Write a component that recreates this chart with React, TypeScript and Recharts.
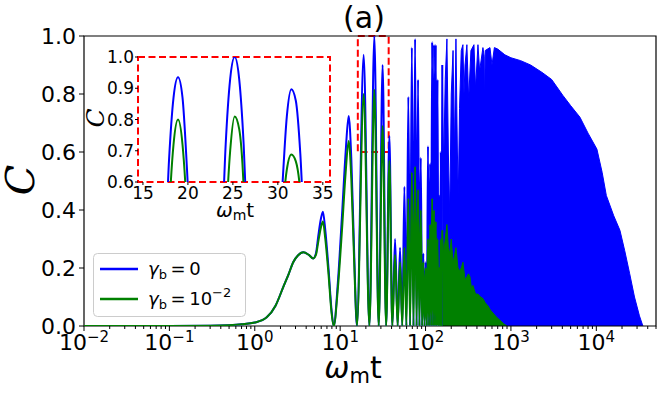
import React from 'react';
import { ComposedChart, LineChart, Line, Area, XAxis, YAxis, ReferenceArea } from 'recharts';

const FONT = "'DejaVu Sans', sans-serif";
const BLUE = '#0000ff';
const GREEN = '#008000';
const RED = '#ff0000';

// ---- main chart: resolved oscillations (x = omega_m t) ----
const oscX = [
  0.01, 0.1, 0.3, 0.5, 0.7, 1.0, 1.38, 1.75, 2.16, 2.5,
  2.82, 3.2, 3.7, 4.3, 4.84, 5.2, 5.54, 5.95, 6.28, 6.7,
  7.3, 7.9, 8.4, 9.4, 10.5, 11.6, 12.57, 13.5, 14.6, 15.71,
  18.85, 21.99, 25.13, 28.27, 31.42, 34.56, 37.7, 40.84, 43.98, 47.12,
  50.27, 53.41, 56.55, 59.69, 62.83, 65.97, 69.12, 72.26, 75.4, 78.54,
  81.68, 84.82, 87.96, 91.11, 94.25, 97.39, 100.5, 103.7, 106.8, 109.96,
  113.1, 116.2, 119.4, 122.5, 125.7, 128.8, 131.9, 135.1, 138.2, 141.4,
  144.5, 147.7, 150.8, 153.9, 157.1,
];
const blueOsc = [
  0, 0, 0.001, 0.003, 0.006, 0.012, 0.03, 0.07, 0.135, 0.18,
  0.22, 0.243, 0.254, 0.245, 0.233, 0.25, 0.31, 0.37, 0.394, 0.33,
  0.2, 0.06, 0, 0.15, 0.38, 0.6, 0.724, 0.58, 0.25, 0,
  0.935, 0, 1.0, 0, 0.9, 0, 0.655, 0, 0.3, 0,
  0.27, 0, 0.48, 0, 0.79, 0, 0.96, 0, 0.99, 0,
  0.85, 0, 0.58, 0, 0.25, 0, 0.22, 0, 0.62, 0,
  0.56, 0, 0.98, 0, 0.97, 0, 0.97, 0, 0.85, 0,
  0.45, 0, 0.6, 0, 0.9,
];
const greenOsc = [
  0, 0, 0.001, 0.003, 0.006, 0.012, 0.03, 0.07, 0.135, 0.18,
  0.22, 0.243, 0.254, 0.245, 0.233, 0.245, 0.29, 0.34, 0.36, 0.3,
  0.18, 0.05, 0, 0.13, 0.33, 0.53, 0.638, 0.51, 0.22, 0,
  0.8, 0, 0.815, 0, 0.69, 0, 0.57, 0, 0.245, 0,
  0.22, 0, 0.27, 0, 0.44, 0, 0.53, 0, 0.55, 0,
  0.47, 0, 0.4, 0, 0.22, 0, 0.2, 0, 0.3, 0,
  0.35, 0, 0.44, 0, 0.4, 0, 0.36, 0, 0.3, 0,
  0.2, 0, 0.3, 0, 0.33,
];

// ---- main chart: unresolved fast oscillations, drawn as upper envelope ----
const blueBandX = [
  157.1, 163, 170, 178, 185, 192, 200, 210, 218, 227,
  236, 242, 250, 262, 274, 282, 290, 305, 320, 340,
  369, 385, 411, 430, 470, 486, 492, 500, 568, 600,
  640, 700, 850, 1000, 1300, 1700, 2300, 3000, 4060, 5000,
  6430, 8000, 10160, 11700, 13100, 16000, 18900, 21500, 24600, 28000,
  32000, 35100,
];
const blueBandTop = [
  0.9, 0.55, 0.85, 0.99, 0.6, 0.38, 0.8, 0.95, 0.6, 0.99,
  0.6, 0.45, 0.75, 0.95, 0.97, 0.8, 0.9, 0.97, 0.78, 0.95,
  0.97, 0.82, 0.97, 0.88, 0.96, 0.93, 0.75, 0.95, 0.96, 0.9,
  0.96, 0.955, 0.935, 0.925, 0.915, 0.9, 0.875, 0.85, 0.795, 0.76,
  0.72, 0.665, 0.61, 0.53, 0.45, 0.38, 0.33, 0.26, 0.18, 0.1,
  0.035, 0,
];
const greenBandX = [
  157.1, 163, 170, 178, 185, 192, 200, 210, 218, 227,
  240, 252, 262, 274, 290, 305, 318, 331, 345, 359,
  385, 411, 440, 470, 500, 537, 575, 615, 680, 743,
  820, 898,
];
const greenBandTop = [
  0.33, 0.25, 0.3, 0.35, 0.27, 0.25, 0.3, 0.22, 0.24, 0.27,
  0.2, 0.19, 0.2, 0.22, 0.16, 0.17, 0.18, 0.17, 0.13, 0.14,
  0.11, 0.11, 0.1, 0.095, 0.08, 0.07, 0.055, 0.045, 0.03, 0.02,
  0.008, 0,
];

// ---- inset (zoom of 15..35) ----
const insetX = [
  16.8, 17.4, 17.9, 18.4, 18.9, 19.4, 19.9, 20.4, 21.0,
  23.1, 23.7, 24.2, 24.7, 25.2, 25.7, 26.2, 26.7, 27.3,
  29.4, 30.0, 30.5, 31.0, 31.5, 32.0, 32.5, 33.0, 33.6,
];
const insetBlue = [
  0.25, 0.35, 0.67, 0.87, 0.935, 0.87, 0.64, 0.35, 0.1,
  0.2, 0.37, 0.72, 0.93, 1.0, 0.93, 0.72, 0.37, 0.15,
  0.2, 0.33, 0.585, 0.81, 0.897, 0.86, 0.69, 0.39, 0.15,
];
const insetGreen = [
  0.05, 0.1, 0.49, 0.72, 0.8, 0.72, 0.49, 0.1, 0.02,
  0.02, 0.1, 0.45, 0.7, 0.81, 0.77, 0.58, 0.1, 0.02,
  0.02, 0.3, 0.5, 0.64, 0.688, 0.666, 0.57, 0.35, 0.05,
];

const xMajor = [0.01, 0.1, 1, 10, 100, 1000, 10000];
const yTicks = [0, 0.2, 0.4, 0.6, 0.8, 1.0];
const insetXTicks = [15, 20, 25, 30, 35];
const insetYTicks = [0.6, 0.7, 0.8, 0.9, 1.0];

const xTicks: number[] = [];
xMajor.forEach((d) => {
  xTicks.push(d);
  for (let k = 2; k <= 9; k++) {
    const v = +(d * k).toPrecision(6);
    if (v <= 50000) xTicks.push(v);
  }
});

type Row = { x: number; bl?: number; gl?: number; ba?: number; ga?: number };
const rowMap = new Map<number, Row>();
const put = (x: number, k: 'bl' | 'gl' | 'ba' | 'ga', v: number) => {
  const r = rowMap.get(x) ?? { x };
  r[k] = v;
  rowMap.set(x, r);
};
oscX.forEach((x, i) => { put(x, 'bl', blueOsc[i]); put(x, 'gl', greenOsc[i]); });
blueBandX.forEach((x, i) => put(x, 'ba', blueBandTop[i]));
greenBandX.forEach((x, i) => put(x, 'ga', greenBandTop[i]));
const rows = [...rowMap.values()].sort((a, b) => a.x - b.x);

const insetRows = insetX.map((x, i) => ({ x, b: insetBlue[i], g: insetGreen[i] }));

const XTick = (props: any) => {
  const { x, y, payload } = props;
  const lg = Math.log10(payload.value);
  const e = Math.round(lg);
  const major = Math.abs(lg - e) < 1e-6;
  return (
    <g>
      <line x1={x} x2={x} y1={y} y2={y + (major ? 5 : 3)} stroke="#000" strokeWidth={1} />
      {major && (
        <text x={x} y={y + 24} textAnchor="middle" fontSize={22} fill="#000" fontFamily={FONT}>
          10
          <tspan dy={-8} fontSize={15}>{e < 0 ? '\u2212' + -e : String(e)}</tspan>
        </text>
      )}
    </g>
  );
};

export default function App() {
  return (
    <div style={{ position: 'absolute', left: 0, top: 0, width: 665, height: 396, background: '#fff', fontFamily: FONT }}>
      <ComposedChart width={665} height={396} data={rows} margin={{ top: 36, right: 9, bottom: 30, left: 24 }}>
        <XAxis
          dataKey="x" type="number" scale="log" domain={[0.01, 50000]} allowDataOverflow
          ticks={xTicks} interval={0} tick={<XTick />} tickLine={false} axisLine={false}
          tickSize={0} tickMargin={0} height={40}
        />
        <YAxis
          type="number" domain={[0, 1]} allowDataOverflow ticks={yTicks} interval={0}
          tickFormatter={(v: number) => v.toFixed(1)}
          tick={{ fontSize: 22, fill: '#000', fontFamily: FONT }}
          tickLine={{ stroke: '#000' }} tickSize={5} tickMargin={3} axisLine={false} width={60}
        />
        <Line dataKey="bl" type="monotone" stroke={BLUE} strokeWidth={2} dot={false} activeDot={false} connectNulls isAnimationActive={false} />
        <Area dataKey="ba" type="linear" stroke={BLUE} strokeWidth={1} fill={BLUE} fillOpacity={1} dot={false} activeDot={false} connectNulls isAnimationActive={false} />
        <Line dataKey="gl" type="monotone" stroke={GREEN} strokeWidth={2} dot={false} activeDot={false} connectNulls isAnimationActive={false} />
        <Area dataKey="ga" type="linear" stroke={GREEN} strokeWidth={1} fill={GREEN} fillOpacity={1} dot={false} activeDot={false} connectNulls isAnimationActive={false} />
        <ReferenceArea x1={16.1} x2={37} y1={0.6} y2={1} fill="none" fillOpacity={0} stroke={RED} strokeDasharray="7 3.5" strokeWidth={2} />
        <ReferenceArea x1={0.01} x2={50000} y1={0} y2={1} fill="none" fillOpacity={0} stroke="#000" strokeWidth={1.2} />
      </ComposedChart>

      <div style={{ position: 'absolute', left: 95, top: 50 }}>
        <LineChart width={245} height={175} data={insetRows} margin={{ top: 7, right: 10, bottom: 18, left: 5 }}>
          <XAxis
            dataKey="x" type="number" domain={[14.45, 35.8]} allowDataOverflow ticks={insetXTicks} interval={0}
            tick={{ fontSize: 17, fill: '#000', fontFamily: FONT }} tickLine={{ stroke: '#000' }}
            tickSize={3} tickMargin={2} axisLine={false} height={25}
          />
          <YAxis
            type="number" domain={[0.6, 1]} allowDataOverflow ticks={insetYTicks} interval={0}
            tickFormatter={(v: number) => v.toFixed(1)}
            tick={{ fontSize: 17, fill: '#000', fontFamily: FONT }} tickLine={{ stroke: '#000' }}
            tickSize={3} tickMargin={1} axisLine={false} width={38}
          />
          <Line dataKey="b" type="monotone" stroke={BLUE} strokeWidth={2} dot={false} activeDot={false} isAnimationActive={false} />
          <Line dataKey="g" type="monotone" stroke={GREEN} strokeWidth={2} dot={false} activeDot={false} isAnimationActive={false} />
          <ReferenceArea x1={14.45} x2={35.8} y1={0.6} y2={1} fill="none" fillOpacity={0} stroke={RED} strokeDasharray="7 3.5" strokeWidth={2} />
        </LineChart>
      </div>

      <svg width={665} height={396} style={{ position: 'absolute', left: 0, top: 0, pointerEvents: 'none' }}>
        <text x={364} y={28} textAnchor="middle" fontSize={30} fontFamily={FONT} fill="#000">(a)</text>
        <text transform="translate(34,180) rotate(-90)" textAnchor="middle" fontSize={40} fontStyle="italic" fontFamily="'DejaVu Serif', serif" fill="#000">C</text>
        <text x={353} y={378} textAnchor="middle" fontSize={30} fontFamily={FONT} fill="#000">
          <tspan fontStyle="italic">ω</tspan>
          <tspan fontSize={21} dy={5}>m</tspan>
          <tspan dy={-5}>t</tspan>
        </text>
        <text transform="translate(104,118) rotate(-90)" textAnchor="middle" fontSize={25} fontStyle="italic" fontFamily="'DejaVu Serif', serif" fill="#000">C</text>
        <text x={235} y={217} textAnchor="middle" fontSize={20} fontFamily={FONT} fill="#000">
          <tspan fontStyle="italic">ω</tspan>
          <tspan fontSize={14} dy={3}>m</tspan>
          <tspan dy={-3}>t</tspan>
        </text>
        <rect x={93.5} y={253.5} width={152} height={63} rx={4} fill="#fff" fillOpacity={0.8} stroke="#cccccc" strokeWidth={1} />
        <line x1={100} x2={138} y1={269} y2={269} stroke={BLUE} strokeWidth={2.5} />
        <line x1={100} x2={138} y1={299} y2={299} stroke={GREEN} strokeWidth={2.5} />
        <text x={148} y={275} fontSize={18} fontFamily={FONT} fill="#000">
          <tspan fontStyle="italic">γ</tspan>
          <tspan fontSize={13} dy={4}>b</tspan>
          <tspan dy={-4}>{'\u2009=\u20090'}</tspan>
        </text>
        <text x={148} y={305} fontSize={18} fontFamily={FONT} fill="#000">
          <tspan fontStyle="italic">γ</tspan>
          <tspan fontSize={13} dy={4}>b</tspan>
          <tspan dy={-4}>{'\u2009=\u200910'}</tspan>
          <tspan fontSize={13} dy={-8}>{'\u22122'}</tspan>
        </text>
      </svg>
    </div>
  );
}
